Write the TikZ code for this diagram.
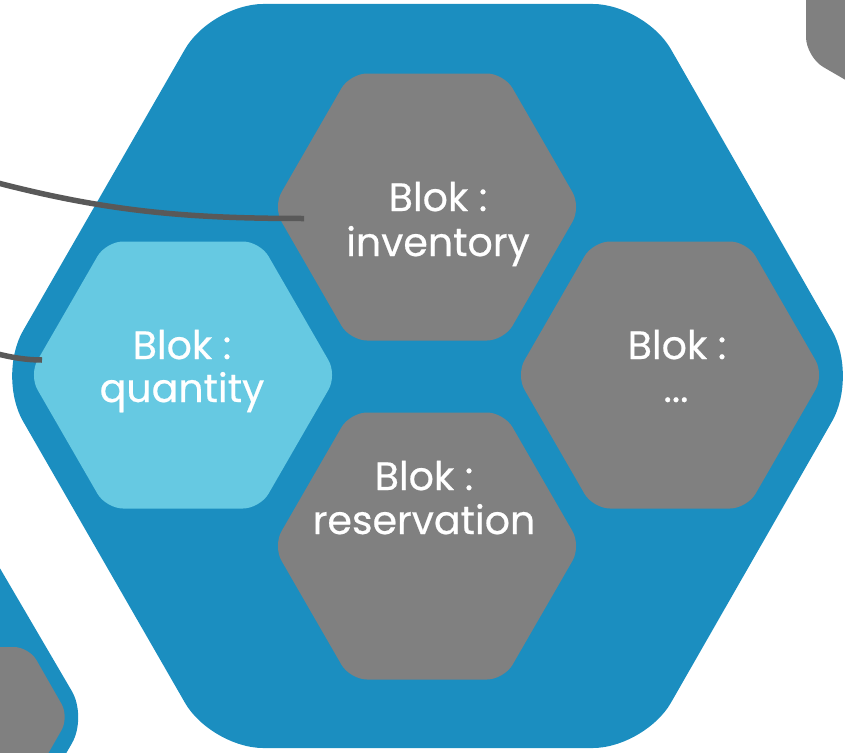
\documentclass[tikz,border=0pt]{standalone}
\usepackage{fontspec}
\setmainfont{Poppins}[FakeBold=0.5]
\definecolor{bigblue}{HTML}{1B8EC0}
\definecolor{lightblue}{HTML}{66C9E2}
\definecolor{hexgray}{HTML}{808080}
\definecolor{linegray}{HTML}{595959}
\tikzset{
  outerhex/.style={fill=bigblue,rounded corners=52pt},
  innerhex/.style={fill=hexgray,rounded corners=17pt},
  activehex/.style={fill=lightblue,rounded corners=17pt},
  label/.style={text=white,font=\fontsize{39.5}{45}\selectfont,align=center,inner sep=0pt,anchor=base},
  wire/.style={draw=linegray,line width=5.5pt}
}
\newcommand{\hexpath}[2]{(#1-154,#2) -- (#1-77,#2-133.5) -- (#1+77,#2-133.5) -- (#1+154,#2) -- (#1+77,#2+133.5) -- (#1-77,#2+133.5) -- cycle}
\begin{document}
\begin{tikzpicture}[x=1pt,y=-1pt]
\useasboundingbox (0,0) rectangle (845,752);
\clip (0,0) rectangle (845,752);
% big hexagon
\fill[outerhex] (-3,376) -- (211,4) -- (645,4) -- (858,376) -- (645,748) -- (211,748) -- cycle;
% partial hexagons
\fill[bigblue,rounded corners=30pt] (-40,500) -- (87,717) -- (21,832) -- (-40,832) -- cycle;
\fill[hexgray,rounded corners=15pt] (-100,647) -- (29,647) -- (69,717) -- (29,787) -- (-100,787) -- cycle;
\fill[hexgray,rounded corners=20pt] (806,-30) -- (806,57) -- (880,100) -- (880,-30) -- cycle;
% inner hexagons
\fill[innerhex] \hexpath{427}{207};
\fill[innerhex] \hexpath{670}{375};
\fill[innerhex] \hexpath{427}{546};
\fill[activehex] \hexpath{183}{375};
% labels
\node[label] (blokinv) at (438,211) {Blok :};
\node[label] (inv) at (438,256) {inventory};
\node[label] (blokqty) at (182,359) {Blok :};
\node[label] (qty) at (182,402) {quantity};
\node[label] (blokdots) at (677,359) {Blok :};
\node[label] (dots) at (676,402) {...};
\node[label] (blokres) at (424,490) {Blok :};
\node[label] (res) at (424,534) {reservation};
% connectors
\coordinate (wireA) at (-2,183);
\coordinate (wireAend) at (304,218.5);
\coordinate (wireB) at (-2,354);
\coordinate (wireBend) at (42,360);
\draw[wire] (wireA) .. controls (110,212) and (190,218.5) .. (wireAend);
\draw[wire] (wireB) .. controls (14,358) and (28,360) .. (wireBend);
\end{tikzpicture}
\end{document}
